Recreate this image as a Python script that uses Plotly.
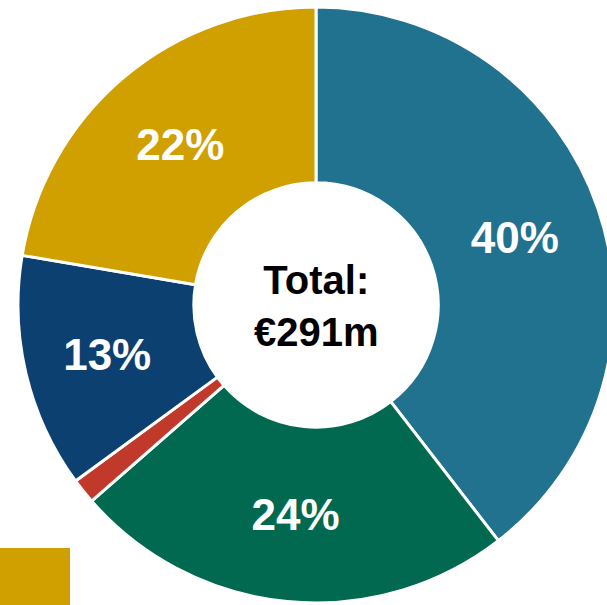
import plotly.graph_objects as go

categories = ["Segment A", "Segment B", "Segment C", "Segment D", "Segment E"]
values = [115, 70, 4, 37, 65]  # €m, total 291
colors = ["#21728F", "#006950", "#C0392B", "#0B4070", "#D09F00"]
label_templates = ["%{percent:.0%}", "%{percent:.0%}", "", "%{percent:.0%}", "%{percent:.0%}"]
center_text = "Total:<br>€291m"

W, H = 632, 605

fig = go.Figure(go.Pie(
    labels=categories,
    values=values,
    sort=False,
    direction="clockwise",
    rotation=0,
    hole=0.41,
    marker=dict(colors=colors, line=dict(color="white", width=3)),
    texttemplate=label_templates,
    textposition="inside",
    insidetextorientation="horizontal",
    textfont=dict(family="Liberation Sans, Arial, sans-serif", size=44, color="white", weight="bold"),
    domain=dict(x=[0, 1], y=[2 / H, 1 - 7 / H]),
    showlegend=False,
    hoverinfo="label+percent+value",
))

fig.add_annotation(
    x=316 / W, y=1 - 306 / H, xref="paper", yref="paper",
    text=f"<b>{center_text}</b>", showarrow=False,
    font=dict(family="Liberation Sans, Arial, sans-serif", size=40, color="black"),
    align="center",
)

fig.add_shape(type="rect", xref="paper", yref="paper",
              x0=0, x1=70 / W, y0=0, y1=1 - 548 / H,
              fillcolor="#D09F00", line=dict(width=0))

fig.update_layout(
    width=W, height=H, autosize=False,
    margin=dict(l=0, r=0, t=0, b=0),
    paper_bgcolor="white", plot_bgcolor="white",
    uniformtext=dict(minsize=44, mode="show"),
)

fig.write_html("out.html",
               config={"displayModeBar": False},
               post_script="document.body.style.margin='0';document.body.style.overflow='hidden';document.documentElement.style.overflow='hidden';")
